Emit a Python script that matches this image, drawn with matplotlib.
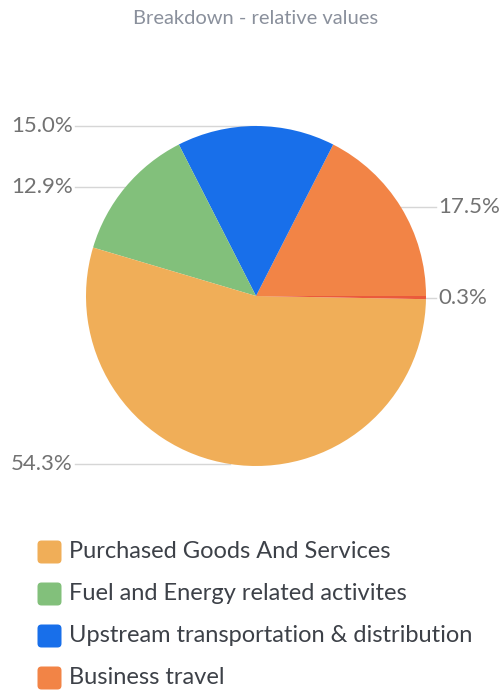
import numpy as np
import matplotlib.pyplot as plt
from matplotlib.patches import FancyBboxPatch

plt.rcParams['font.family'] = ['Lato', 'DejaVu Sans']

# slices in drawing order (counter-clockwise from 3 o'clock)
slice_names = ['Business travel', 'Upstream transportation & distribution',
               'Fuel and Energy related activites', 'Purchased Goods And Services',
               'Other']
slice_pct = [17.5, 15.0, 12.9, 54.3, 0.3]
slice_colors = ['#F28446', '#186FEA', '#82C07B', '#F0AE58', '#EA5A3C']

legend_names = ['Purchased Goods And Services', 'Fuel and Energy related activites',
                'Upstream transportation & distribution', 'Business travel']
legend_colors = ['#F0AE58', '#82C07B', '#186FEA', '#F28446']

W, H = 500, 695
fig = plt.figure(figsize=(W / 100, H / 100), dpi=100)
ax = fig.add_axes([0, 0, 1, 1])

cx, cy, r = 256, H - 296, 170
wedges, _ = ax.pie(slice_pct, colors=slice_colors, startangle=0, counterclock=True,
                   center=(cx, cy), radius=r, frame=True,
                   wedgeprops=dict(linewidth=0))
ax.set_xlim(0, W)
ax.set_ylim(0, H)
ax.set_aspect('equal')
ax.axis('off')

# value labels with horizontal leader lines
for w, pct in zip(wedges, slice_pct):
    mid = np.deg2rad((w.theta1 + w.theta2) / 2)
    ex, ey = cx + r * np.cos(mid), cy + r * np.sin(mid)
    if np.cos(mid) >= 0:
        ax.plot([ex, 436], [ey, ey], color='#d6d6d6', lw=1, zorder=0)
        ax.text(438, ey, f'{pct:.1f}%', ha='left', va='center',
                fontsize=16, color='#727272')
    else:
        ax.plot([75, ex], [ey, ey], color='#d6d6d6', lw=1, zorder=0)
        ax.text(73, ey, f'{pct:.1f}%', ha='right', va='center',
                fontsize=16, color='#727272')

ax.text(W / 2 + 6, H - 18, 'Breakdown - relative values', ha='center', va='center',
        fontsize=14.5, color='#8a909c')

# legend
for i, (name, col) in enumerate(zip(legend_names, legend_colors)):
    y = H - (552 + 42 * i)
    ax.add_patch(FancyBboxPatch((39, y - 10), 21, 20,
                                boxstyle='round,pad=1.5,rounding_size=4',
                                facecolor=col, edgecolor='none'))
    ax.text(69, y, name, ha='left', va='center', fontsize=17, color='#3d4148')

fig.savefig('out.png', dpi=100)
